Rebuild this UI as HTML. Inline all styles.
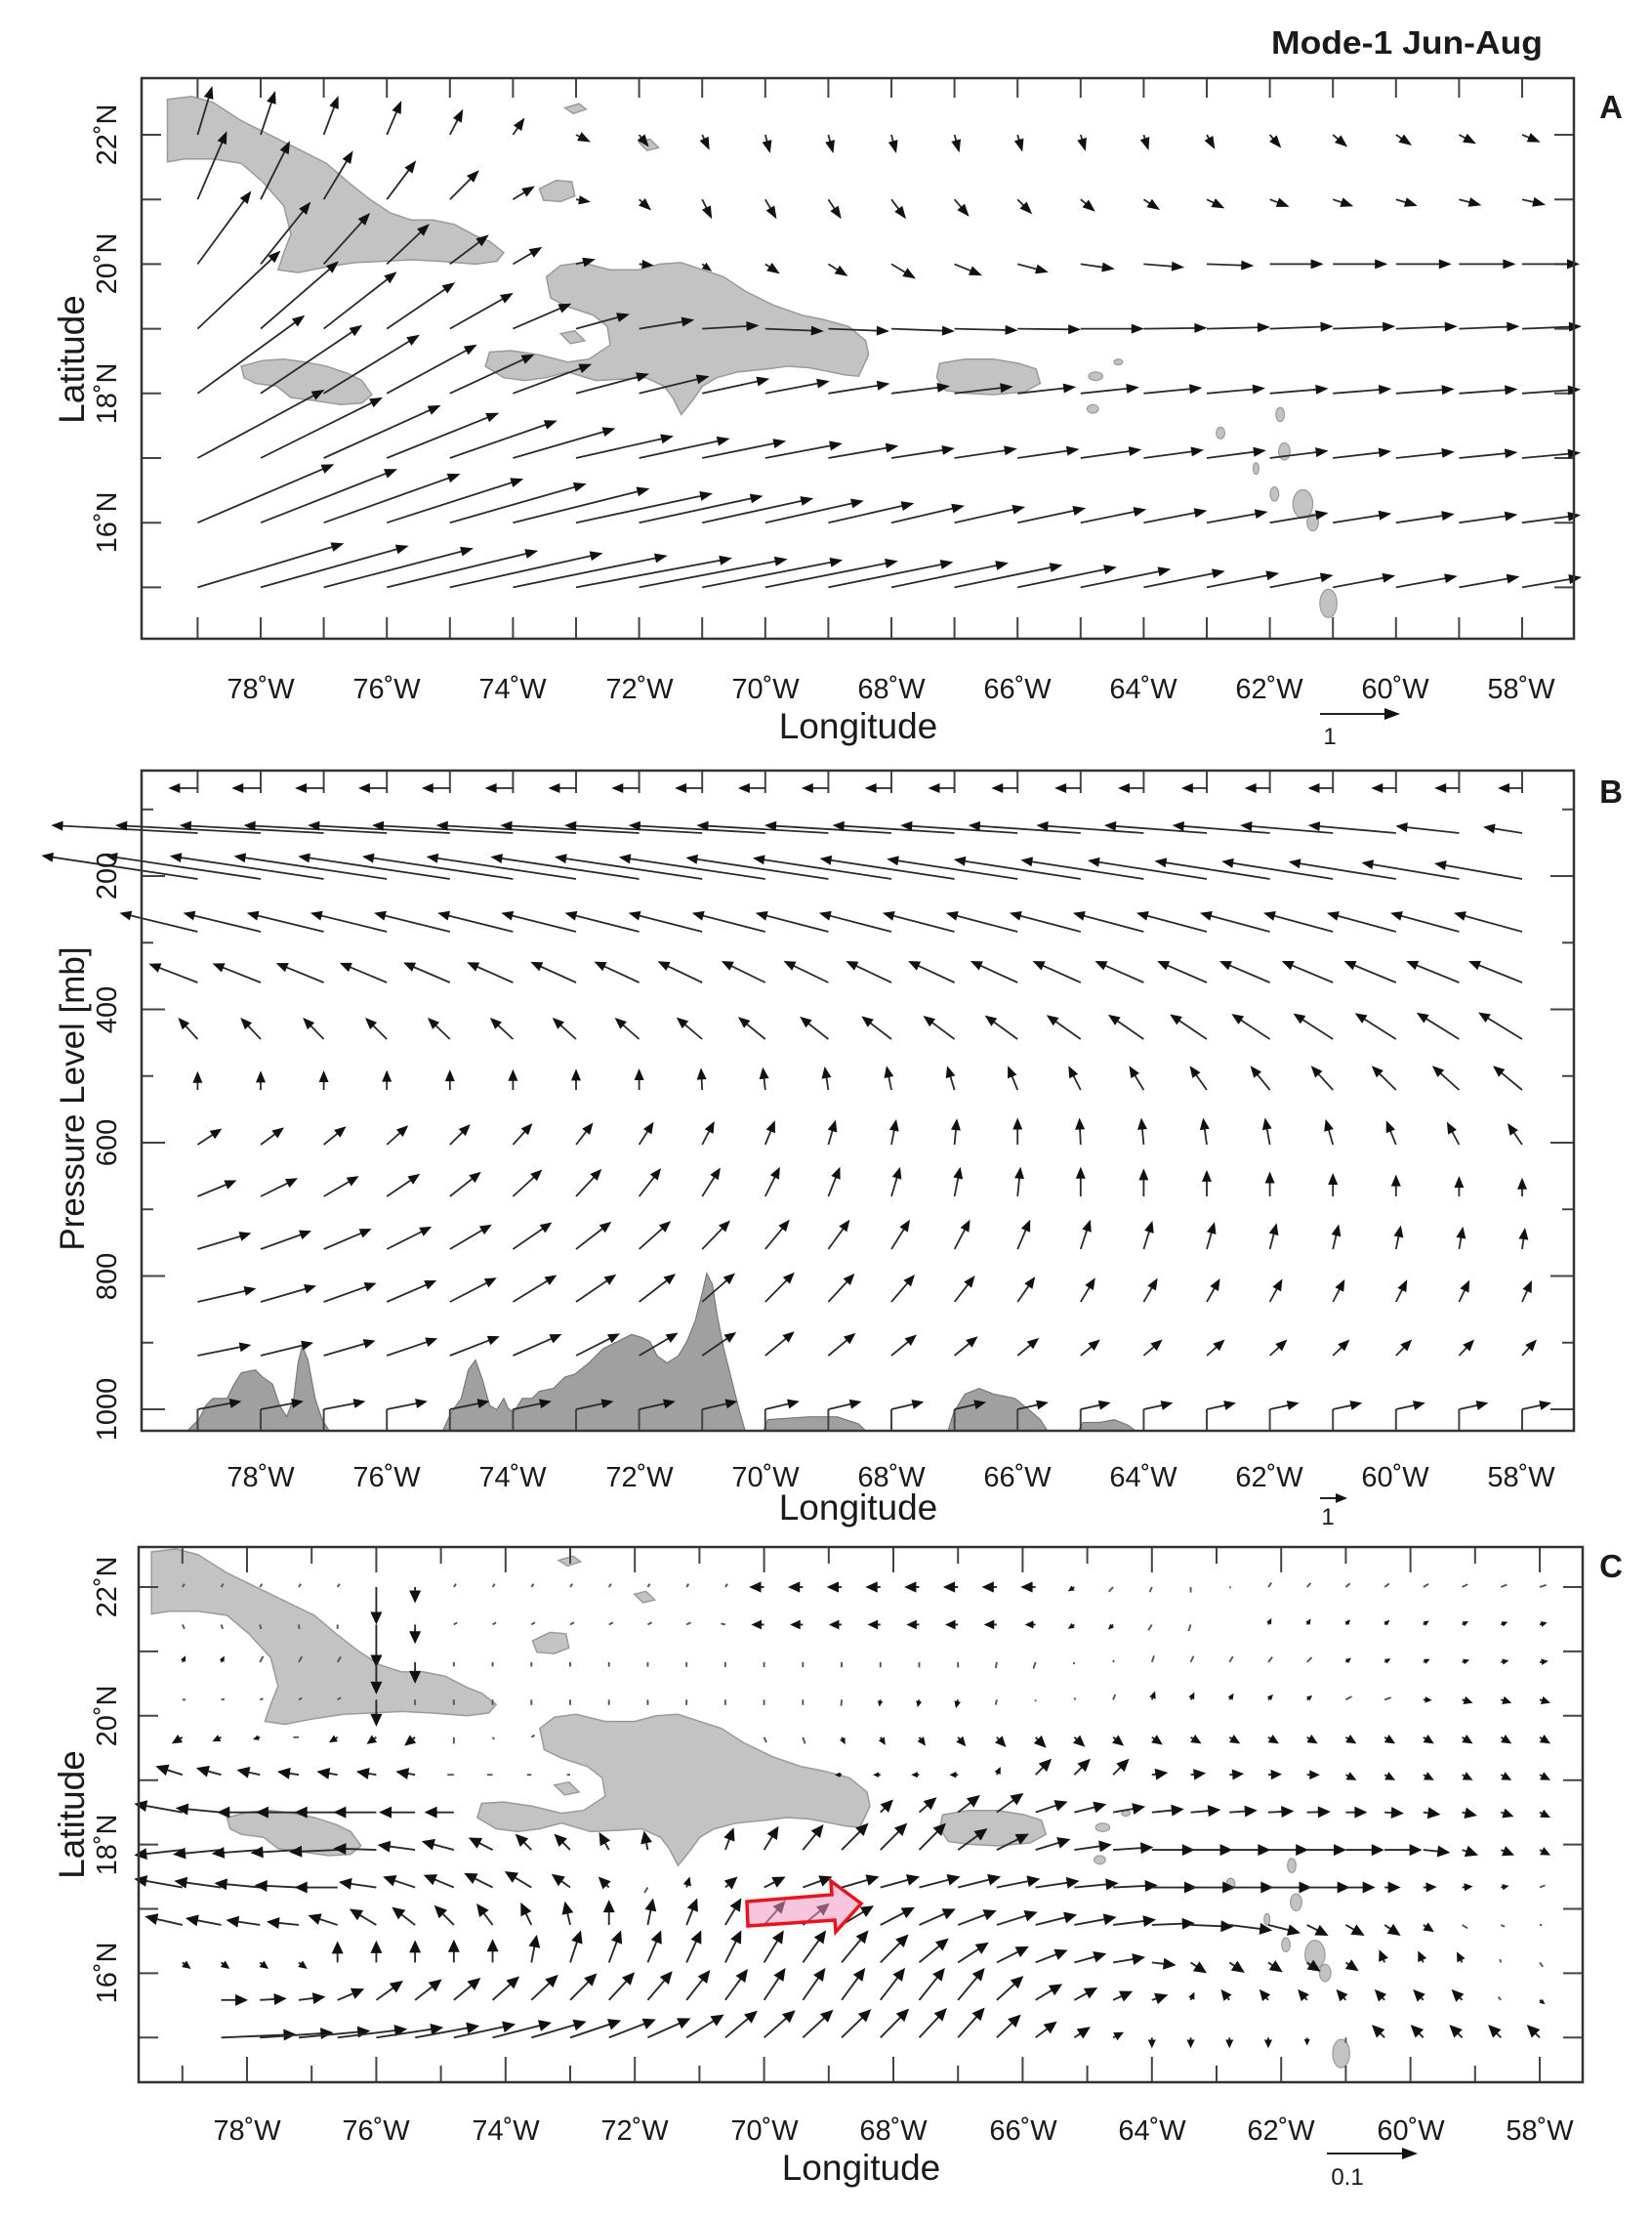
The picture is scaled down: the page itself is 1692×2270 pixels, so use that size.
<!DOCTYPE html>
<html><head><meta charset="utf-8"><style>
html,body{margin:0;padding:0;background:#fff;}
svg{display:block;}
text{font-family:"Liberation Sans",sans-serif;fill:#1a1a1a;}
</style></head><body>
<svg id="s" xmlns="http://www.w3.org/2000/svg" width="1692" height="2270" viewBox="0 0 1692 2270">
<defs>
<clipPath id="cA"><rect x="145" y="80" width="1467" height="574"/></clipPath>
<clipPath id="cC"><rect x="142" y="1584" width="1479" height="548"/></clipPath>
</defs>
<rect width="1692" height="2270" fill="#fff"/>
<g id="land"></g>
<g id="ticks" stroke="#444" stroke-width="2" fill="none"></g>
<g id="arr"></g>
<rect x="145" y="80" width="1467" height="574" fill="none" stroke="#333" stroke-width="2.5"/>
<rect x="145" y="789" width="1467" height="676" fill="none" stroke="#333" stroke-width="2.5"/>
<rect x="142" y="1584" width="1479" height="548" fill="none" stroke="#333" stroke-width="2.5"/>

<text x="1441" y="55" font-size="33" font-weight="bold" text-anchor="middle" textLength="278" lengthAdjust="spacingAndGlyphs">Mode-1 Jun-Aug</text>
<text x="1650" y="121" font-size="33" font-weight="bold" text-anchor="middle">A</text>
<text x="1650" y="822" font-size="33" font-weight="bold" text-anchor="middle">B</text>
<text x="1650" y="1615" font-size="33" font-weight="bold" text-anchor="middle">C</text>

<g font-size="29" text-anchor="middle">
<text x="267" y="715">78˚W</text><text x="396" y="715">76˚W</text><text x="525" y="715">74˚W</text><text x="655" y="715">72˚W</text><text x="784" y="715">70˚W</text><text x="913" y="715">68˚W</text><text x="1042" y="715">66˚W</text><text x="1171" y="715">64˚W</text><text x="1300" y="715">62˚W</text><text x="1429" y="715">60˚W</text><text x="1558" y="715">58˚W</text>
</g>
<text x="879" y="756" font-size="37" text-anchor="middle">Longitude</text>
<g font-size="29" text-anchor="middle">
<text transform="translate(119,138) rotate(-90)">22˚N</text>
<text transform="translate(119,270) rotate(-90)">20˚N</text>
<text transform="translate(119,403) rotate(-90)">18˚N</text>
<text transform="translate(119,535) rotate(-90)">16˚N</text>
</g>
<text transform="translate(86,368) rotate(-90)" font-size="37" text-anchor="middle">Latitude</text>
<line x1="1352" y1="731" x2="1420" y2="731" stroke="#222" stroke-width="2"/><polygon points="1434,731 1418,725 1418,737" fill="#111"/>
<text x="1362" y="762" font-size="24" text-anchor="middle">1</text>

<g font-size="29" text-anchor="middle">
<text x="267" y="1522">78˚W</text><text x="396" y="1522">76˚W</text><text x="525" y="1522">74˚W</text><text x="655" y="1522">72˚W</text><text x="784" y="1522">70˚W</text><text x="913" y="1522">68˚W</text><text x="1042" y="1522">66˚W</text><text x="1171" y="1522">64˚W</text><text x="1300" y="1522">62˚W</text><text x="1429" y="1522">60˚W</text><text x="1558" y="1522">58˚W</text>
</g>
<text x="879" y="1556" font-size="37" text-anchor="middle">Longitude</text>
<g font-size="29" text-anchor="middle">
<text transform="translate(119,897) rotate(-90)">200</text>
<text transform="translate(119,1034) rotate(-90)">400</text>
<text transform="translate(119,1170) rotate(-90)">600</text>
<text transform="translate(119,1307) rotate(-90)">800</text>
<text transform="translate(119,1443) rotate(-90)">1000</text>
</g>
<text transform="translate(86,1125) rotate(-90)" font-size="35" text-anchor="middle">Pressure Level [mb]</text>
<line x1="1352" y1="1534" x2="1370" y2="1534" stroke="#222" stroke-width="2"/><polygon points="1380,1534 1368,1529 1368,1539" fill="#111"/>
<text x="1360" y="1561" font-size="24" text-anchor="middle">1</text>

<g font-size="29" text-anchor="middle">
<text x="253" y="2191">78˚W</text><text x="385" y="2191">76˚W</text><text x="518" y="2191">74˚W</text><text x="650" y="2191">72˚W</text><text x="783" y="2191">70˚W</text><text x="915" y="2191">68˚W</text><text x="1048" y="2191">66˚W</text><text x="1180" y="2191">64˚W</text><text x="1312" y="2191">62˚W</text><text x="1445" y="2191">60˚W</text><text x="1577" y="2191">58˚W</text>
</g>
<text x="882" y="2232" font-size="37" text-anchor="middle">Longitude</text>
<g font-size="29" text-anchor="middle">
<text transform="translate(119,1625) rotate(-90)">22˚N</text>
<text transform="translate(119,1757) rotate(-90)">20˚N</text>
<text transform="translate(119,1889) rotate(-90)">18˚N</text>
<text transform="translate(119,2020) rotate(-90)">16˚N</text>
</g>
<text transform="translate(86,1858) rotate(-90)" font-size="37" text-anchor="middle">Latitude</text>
<line x1="1359" y1="2205" x2="1438" y2="2205" stroke="#222" stroke-width="2"/><polygon points="1452,2205 1436,2199 1436,2211" fill="#111"/>
<text x="1380" y="2237" font-size="24" text-anchor="middle">0.1</text>

<polygon id="red" points="765,1947 852,1940 851,1926 882,1949 856,1978 855,1966 766,1972" fill="rgba(240,150,195,0.55)" stroke="#e8141c" stroke-width="3.5" stroke-linejoin="miter"/>
</svg>
<script>
var NS='http://www.w3.org/2000/svg';
function el(t,a,p){var e=document.createElementNS(NS,t);for(var k in a)e.setAttribute(k,a[k]);p.appendChild(e);return e;}
var land=document.getElementById('land'),ticks=document.getElementById('ticks'),arr=document.getElementById('arr');
var S=1.4536;
function dA(x,y){return [78-(x*S-267)/64.6, 22-(y*S-138)/66.2];}
function pA(lon,lat){return [267+(78-lon)*64.6,138+(22-lat)*66.2];}
function pC(lon,lat){return [253+(78-lon)*66.2,1625+(22-lat)*65.9];}
var islands=[
[[118,70],[135,68],[150,72],[170,85],[190,95],[210,105],[230,115],[245,128],[260,140],[275,150],[290,155],[305,155],[320,158],[335,166],[345,170],[355,178],[350,184],[335,186],[310,184],[290,183],[270,184],[250,185],[230,188],[210,192],[196,190],[200,178],[205,165],[200,145],[185,128],[170,115],[150,112],[130,112],[118,114]],
[[385,195],[395,187],[410,185],[430,190],[450,190],[465,186],[480,185],[495,190],[510,195],[525,205],[545,215],[565,222],[580,225],[598,230],[610,240],[612,250],[605,265],[595,264],[585,262],[570,259],[555,258],[540,260],[520,262],[505,266],[495,272],[488,282],[480,292],[474,280],[468,272],[455,266],[440,267],[420,268],[400,262],[385,266],[370,268],[355,266],[342,258],[345,248],[360,247],[380,250],[400,255],[415,253],[430,243],[428,230],[418,222],[400,216],[388,210]],
[[170,258],[185,254],[200,253],[215,255],[230,258],[245,263],[255,268],[262,278],[255,284],[240,285],[220,282],[205,280],[195,272],[180,270],[172,266]],
[[662,256],[680,253],[700,253],[718,256],[730,260],[733,270],[722,276],[700,278],[680,277],[666,275],[660,266]],
[[380,133],[392,127],[403,128],[405,138],[395,142],[383,141]],
[[398,76],[408,73],[413,77],[404,80]],
[[450,100],[458,98],[464,104],[456,106]],
[[395,235],[405,233],[412,240],[402,242]]
];
var dots=[[918,355,7,10],[925,368,4,6],[936,425,6,10],[902,292,3,5],[905,318,4,6],[860,305,3,4],[885,330,2,4],[772,265,5,3],[770,288,4,3],[788,255,3,2],[898,348,3,5]];
function poly(pts,map,clip){var s=pts.map(function(p){var ll=dA(p[0],p[1]);var q=map(ll[0],ll[1]);return q[0].toFixed(1)+','+q[1].toFixed(1);}).join(' ');
 el('polygon',{points:s,fill:'#c3c3c3',stroke:'#9a9a9a','stroke-width':1.5,'clip-path':clip},land);}
islands.forEach(function(p){poly(p,pA,'url(#cA)');poly(p,pC,'url(#cC)');});
dots.forEach(function(d){[[pA,'url(#cA)'],[pC,'url(#cC)']].forEach(function(m){var ll=dA(d[0],d[1]);var q=m[0](ll[0],ll[1]);
 el('ellipse',{cx:q[0],cy:q[1],rx:d[2]*S,ry:d[3]*S,fill:'#c3c3c3',stroke:'#9a9a9a','stroke-width':1.2},land);});});
var ter=[
[[132,1008],[140,1000],[145,990],[150,985],[160,985],[165,975],[170,967],[180,965],[185,970],[192,975],[197,990],[202,998],[207,985],[210,960],[213,948],[217,958],[222,985],[227,1000],[232,1008]],
[[312,1008],[318,995],[325,985],[330,965],[335,958],[340,972],[345,990],[350,993],[355,985],[358,992],[362,995],[368,985],[375,985],[380,980],[390,978],[398,970],[405,968],[415,960],[425,950],[435,945],[445,940],[452,942],[458,945],[463,955],[470,960],[478,955],[484,945],[490,930],[495,910],[498,897],[502,905],[505,925],[510,950],[515,970],[520,990],[525,1008]],
[[538,1008],[541,1000],[570,998],[590,998],[605,1003],[610,1008]],
[[668,1008],[672,995],[680,982],[690,978],[700,982],[715,985],[725,993],[733,1000],[738,1008]],
[[760,1008],[763,1002],[775,1002],[785,1000],[795,1004],[800,1008]]];
ter.forEach(function(p){el('polygon',{points:p.map(function(q){return (q[0]*S).toFixed(1)+','+Math.min(q[1]*S,1465).toFixed(1);}).join(' '),fill:'#a0a0a0',stroke:'#777','stroke-width':1.2},land);});
function L(x1,y1,x2,y2){el('line',{x1:x1,y1:y1,x2:x2,y2:y2},ticks);}
for(var lon=57;lon<=79;lon++){var x=pA(lon,0)[0];if(x>146&&x<1611){L(x,654,x,632);L(x,80,x,100);L(x,1465,x,1443);L(x,789,x,812);}
 var xc=pC(lon,0)[0];if(xc>143&&xc<1620){var l=lon%2==0?26:17;L(xc,2132,xc,2132-l);L(xc,1584,xc,1584+l);}}
for(var lat=15;lat<=22;lat++){var y=pA(0,lat)[1];L(145,y,165,y);L(1612,y,1592,y);var yc=pC(0,lat)[1];L(142,yc,162,yc);L(1621,yc,1601,yc);}
for(var p=100;p<=1000;p+=100){var y=897+(p-200)*0.6825;var l=p%200==0?24:12;L(145,y,145+l,y);L(1612,y,1612-l,y);}
function arrow(x1,y1,dx,dy,hl,hw,sw,col){var len=Math.sqrt(dx*dx+dy*dy);if(len<1)return;var x2=x1+dx,y2=y1+dy;
 if(len<7){el('line',{x1:x1,y1:y1,x2:x2,y2:y2,stroke:'#555','stroke-width':sw},arr);return;}
 var h=Math.min(hl,len*0.8),w=hw*h/hl;var ux=dx/len,uy=dy/len;
 el('line',{x1:x1,y1:y1,x2:x2-ux*h*0.6,y2:y2-uy*h*0.6,stroke:col||'#2a2a2a','stroke-width':sw},arr);
 var bx=x2-ux*h,by=y2-uy*h;
 el('polygon',{points:x2+','+y2+' '+(bx-uy*w)+','+(by+ux*w)+' '+(bx+uy*w)+','+(by-ux*w),fill:'#111'},arr);}
function interp(keys,t){if(t<=keys[0][0])return [keys[0][1],keys[0][2]];for(var i=1;i<keys.length;i++){if(t<=keys[i][0]){var a=keys[i-1],b=keys[i],f=(t-a[0])/(b[0]-a[0]);return [a[1]+f*(b[1]-a[1]),a[2]+f*(b[2]-a[2])];}}var k=keys[keys.length-1];return [k[1],k[2]];}
var A={15:[[79,150,-90],[73,160,-60],[68,120,-50],[62,65,-25],[57,60,-20]],
16:[[79,140,-120],[73,140,-60],[68,75,-35],[62,60,-20],[57,60,-15]],
17:[[79,130,-140],[73,100,-45],[68,65,-20],[62,60,-15],[57,60,-10]],
18:[[79,110,-160],[73,75,-40],[68,60,-15],[62,60,-10],[57,60,-8]],
19:[[79,85,-160],[73,55,-30],[70,60,5],[68,65,5],[62,65,-5],[57,60,-5]],
20:[[79,55,-150],[75,40,-60],[73,20,-10],[71,10,15],[68,25,30],[65,35,10],[62,55,0],[57,60,0]],
21:[[79,30,-140],[75,30,-60],[73,15,5],[71,10,40],[68,15,40],[65,15,25],[62,20,15],[57,25,10]],
22:[[79,15,-100],[76,15,-70],[74,12,-35],[73,15,15],[72,10,25],[70,5,38],[68,5,38],[64,5,32],[61,15,25],[57,20,12]]};
for(var lat=15;lat<=22;lat++){var keys=A[lat].map(function(k){return [79-k[0],k[1],k[2]];});
 for(var lon=79;lon>=58;lon--){var v=interp(keys,79-lon);var q=pA(lon,lat);arrow(q[0],q[1],v[0],v[1]*0.5,13,5,1.8);}}
var By=[1443,1388,1333,1279,1225,1172,1116,1064,1006,954,900,853,807];
var B=[[[79,45,-15],[70,35,-15],[64,30,-12],[58,30,-12]],
[[79,55,-20],[74,50,-40],[70,30,-45],[65,20,-30],[58,15,-30]],
[[79,60,-25],[74,45,-50],[70,30,-55],[65,15,-45],[58,10,-40]],
[[79,55,-30],[74,40,-50],[70,25,-55],[65,10,-55],[58,3,-40]],
[[79,40,-30],[74,30,-50],[70,15,-55],[65,0,-55],[58,0,-35]],
[[79,25,-30],[74,20,-40],[70,10,-45],[66,0,-50],[62,-5,-50],[58,-15,-40]],
[[79,0,-35],[72,0,-40],[68,-5,-45],[62,-20,-45],[58,-30,-45]],
[[79,-20,-40],[72,-25,-40],[65,-35,-45],[58,-45,-50]],
[[79,-50,-35],[70,-45,-40],[58,-55,-40]],
[[79,-80,-35],[70,-75,-35],[58,-70,-35]],
[[79,-160,-30],[70,-150,-28],[60,-110,-22],[58,-90,-20]],
[[79,-150,-10],[70,-140,-10],[60,-90,-10],[58,-40,-8]],
[[79,-30,0],[58,-25,0]]];
for(var k=0;k<13;k++){var keys=B[k].map(function(q){return [79-q[0],q[1],q[2]];});var fy=k<10?0.55:0.8;
 for(var lon=79;lon>=58;lon--){var v=interp(keys,79-lon);v[1]*=fy;var x=pA(lon,0)[0],y=By[k];
  arrow(x,y,v[0],v[1],12,5,1.8);}}
var C=[
[[0,2,-3],[4,2,-3],[5,0,35],[6,0,15],[7,2,-3],[14,2,-3],[15,-14,0],[22,-14,0],[23,-6,4],[26,0,5],[28,3,-4],[35,6,-2]],
[[0,2,4],[4,0,4],[5,0,40],[6,0,18],[7,3,-2],[13,4,-2],[15,-12,0],[21,-12,0],[22,-10,0],[23,-6,4],[26,-2,6],[28,3,-6],[35,7,-2]],
[[0,3,-6],[4,3,-5],[5,0,30],[6,0,20],[7,0,4],[20,0,5],[22,-2,6],[25,2,-6],[30,5,-4],[35,8,-1]],
[[0,3,0],[4,3,-2],[5,0,25],[6,0,5],[16,0,5],[20,-2,8],[25,3,-8],[31,6,-2],[33,10,3],[35,10,3]],
[[0,-10,6],[3,-5,0],[4,-8,5],[6,-10,8],[7,0,6],[9,3,-2],[16,2,6],[22,10,10],[26,10,6],[35,10,6]],
[[0,-25,-8],[3,-20,-3],[6,-18,-3],[7,-6,0],[10,-3,0],[20,-8,0],[22,15,-15],[24,15,-15],[25,15,-2],[29,12,0],[30,10,5],[35,10,5]],
[[0,-45,-8],[2,-40,0],[5,-40,0],[9,-15,0],[10,-6,0],[17,12,-12],[18,12,-12],[21,25,-18],[22,30,-10],[25,30,-3],[30,20,0],[35,10,5]],
[[0,-45,5],[4,-45,2],[7,-30,-8],[9,-15,-15],[10,-15,-15],[17,25,-25],[19,25,-25],[21,30,-15],[23,35,-5],[25,40,0],[31,35,0],[33,15,5],[35,10,5]],
[[0,-45,-8],[4,-40,0],[6,-30,-10],[9,-25,-15],[11,-10,-10],[12,-3,5],[13,3,-10],[15,20,-10],[17,35,-10],[20,40,-10],[25,42,0],[29,40,0],[31,15,0],[35,5,-2]],
[[0,-35,-8],[3,-30,-3],[5,-25,-15],[8,-15,-20],[10,-5,-22],[12,5,-25],[14,15,-25],[17,30,-18],[21,38,-12],[24,40,-5],[27,40,5],[29,20,10],[31,15,10],[33,5,3],[35,2,0]],
[[0,8,6],[3,8,6],[4,0,-20],[8,0,-22],[10,10,-30],[14,15,-30],[17,25,-30],[21,30,-15],[24,30,-5],[26,15,10],[30,12,8],[31,-5,-12],[33,-5,-10],[35,3,4]],
[[1,25,0],[3,25,-3],[5,25,-18],[10,25,-25],[15,20,-30],[20,25,-30],[22,25,-15],[25,15,-5],[27,-8,-10],[33,-10,-10],[35,5,4]],
[[1,70,-3],[4,65,-8],[8,55,-14],[12,40,-18],[14,30,-25],[20,25,-28],[22,20,-15],[24,10,-5],[25,0,10],[28,0,10],[30,0,5],[31,-12,-12],[35,-12,-12]]];
var hisp=islands[1].map(function(p){return pC.apply(null,dA(p[0],p[1]));});
function inside(pt,poly){var c=false;for(var i=0,j=poly.length-1;i<poly.length;j=i++){var a=poly[i],b=poly[j];if(((a[1]>pt[1])!=(b[1]>pt[1]))&&(pt[0]<(b[0]-a[0])*(pt[1]-a[1])/(b[1]-a[1])+a[0]))c=!c;}return c;}
for(var r=0;r<13;r++){var lat=22-r*7/12;
 for(var c=0;c<36;c++){if(r>=11&&c==0)continue;var lon=79-c*0.6;var q=pC(lon,lat);if(inside(q,hisp))continue;
  var v=interp(C[r],c);arrow(q[0],q[1],v[0]*1.1,v[1]*1.1,13,6,1.9);}}
var red=document.getElementById('red');red.parentNode.appendChild(red);
</script>
</body></html>
